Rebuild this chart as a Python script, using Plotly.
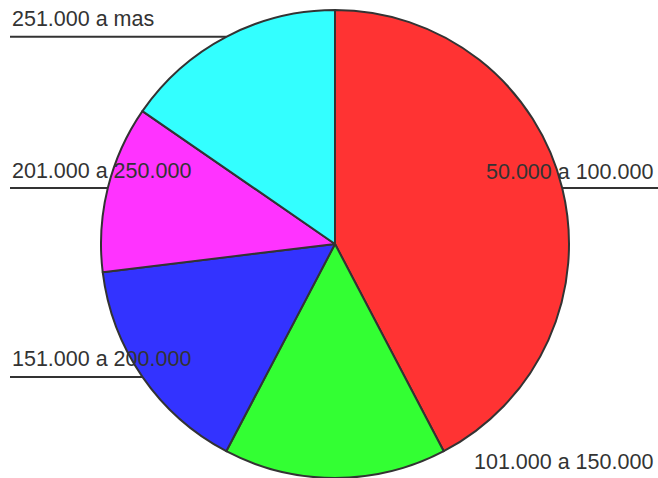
import math
import plotly.graph_objects as go

# ## data
labels = ["50.000 a 100.000", "101.000 a 150.000", "151.000 a 200.000",
          "201.000 a 250.000", "251.000 a mas"]
values = [11, 4, 4, 3, 4]
colors = ["#FF3333", "#33FF33", "#3333FF", "#FF33FF", "#33FFFF"]

W, H = 658, 478
cx, cy, r = 335, 244, 234   # pie centre and radius in pixels

fig = go.Figure(go.Pie(
    labels=labels, values=values, sort=False, direction="clockwise", rotation=0,
    marker=dict(colors=colors, line=dict(color="#333333", width=2)),
    textinfo="none", hoverinfo="label+value", showlegend=False,
    domain=dict(x=[(cx - r) / W, (cx + r) / W], y=[max(0, 1 - (cy + r) / H), 1 - (cy - r) / H]),
))

# ## labels on the edges, underlined up to the pie
total = sum(values)
cum = 0
for lab, v in zip(labels, values):
    mid = (cum + v / 2) / total * 2 * math.pi
    cum += v
    ly = cy - r * math.cos(mid)
    dx = math.sqrt(max(r * r - (ly - cy) ** 2, 0))
    right = math.sin(mid) >= -1e-9
    if right:
        x0, x1 = cx + dx, W
        fig.add_annotation(x=655 / W, y=1 - (ly - 16.5) / H, xref="paper", yref="paper",
                           text=lab, showarrow=False, xanchor="right", yanchor="middle")
    else:
        x0, x1 = 10, cx - dx
        fig.add_annotation(x=10 / W, y=1 - (ly - 17.5) / H, xref="paper", yref="paper",
                           text=lab, showarrow=False, xanchor="left", yanchor="middle")
    if ly < H - 1:  # the bottom one falls off the page
        fig.add_shape(type="line", xref="paper", yref="paper",
                      x0=x0 / W, x1=x1 / W, y0=1 - ly / H, y1=1 - ly / H,
                      line=dict(color="#333333", width=2))

fig.update_annotations(font=dict(family="Liberation Sans, Arial", size=21.5, color="#333333"))
fig.update_layout(width=W, height=H, margin=dict(l=0, r=0, t=0, b=0),
                  paper_bgcolor="white", plot_bgcolor="white")
# drop the page margin so the figure sits at the window's corner
fig.write_html("out.html", config={"displayModeBar": False},
               post_script="document.body.style.margin='0';")
